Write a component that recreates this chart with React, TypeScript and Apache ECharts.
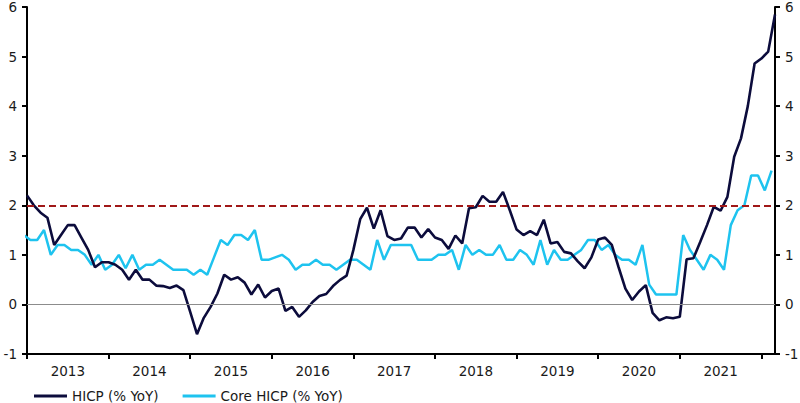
import React, { useEffect, useRef } from "react";
import * as echarts from "echarts";

// Monthly observations, Dec 2012 -> Feb 2022
const firstMonth = "2012-12";
const years = ["2013", "2014", "2015", "2016", "2017", "2018", "2019", "2020", "2021"];
const yTicks = [-1, 0, 1, 2, 3, 4, 5, 6];
const targetLevel = 2;
const zeroLevel = 0;

const hicp = [
  2.2,
  2.0, 1.85, 1.75, 1.2, 1.4, 1.6, 1.6, 1.35, 1.1, 0.75, 0.85, 0.85,
  0.8, 0.7, 0.5, 0.7, 0.5, 0.5, 0.38, 0.37, 0.33, 0.38, 0.29, -0.15,
  -0.6, -0.27, -0.05, 0.22, 0.6, 0.5, 0.55, 0.44, 0.2, 0.4, 0.14, 0.27,
  0.32, -0.13, -0.05, -0.25, -0.12, 0.05, 0.17, 0.21, 0.37, 0.49, 0.58, 1.1,
  1.72, 1.95, 1.53, 1.9, 1.38, 1.3, 1.33, 1.55, 1.55, 1.35, 1.52, 1.35,
  1.3, 1.12, 1.39, 1.23, 1.94, 1.96, 2.19, 2.07, 2.07, 2.27, 1.9, 1.51,
  1.4, 1.48, 1.4, 1.71, 1.23, 1.26, 1.06, 1.03, 0.87, 0.73, 0.95, 1.31,
  1.35, 1.2, 0.75, 0.32, 0.09, 0.26, 0.39, -0.17, -0.32, -0.26, -0.28, -0.25,
  0.91, 0.93, 1.26, 1.6, 1.97, 1.89, 2.17, 2.98, 3.35, 4.0, 4.86, 4.96,
  5.1, 5.85,
];

const core = [
  1.4,
  1.3, 1.3, 1.5, 1.0, 1.2, 1.2, 1.1, 1.1, 1.0, 0.8, 1.0, 0.7,
  0.8, 1.0, 0.73, 1.0, 0.7, 0.8, 0.8, 0.9, 0.8, 0.7, 0.7, 0.7,
  0.6, 0.7, 0.6, 0.95, 1.3, 1.2, 1.4, 1.4, 1.3, 1.5, 0.9, 0.9,
  0.95, 1.0, 0.9, 0.7, 0.8, 0.8, 0.9, 0.8, 0.8, 0.7, 0.8, 0.9,
  0.9, 0.8, 0.7, 1.3, 0.9, 1.2, 1.2, 1.2, 1.2, 0.9, 0.9, 0.9,
  1.0, 1.0, 1.1, 0.7, 1.2, 1.0, 1.1, 1.0, 1.0, 1.2, 0.9, 0.9,
  1.1, 1.0, 0.8, 1.3, 0.8, 1.1, 0.9, 0.9, 1.0, 1.1, 1.3, 1.3,
  1.1, 1.2, 1.0, 0.9, 0.9, 0.8, 1.2, 0.4, 0.2, 0.2, 0.2, 0.2,
  1.4, 1.1, 0.9, 0.7, 1.0, 0.9, 0.7, 1.6, 1.9, 2.0, 2.6, 2.6,
  2.3, 2.7,
];

const FONT = "DejaVu Sans";
const TEXT = "#1a1a1a";
const FS = 13.5;

export default function App() {
  const ref = useRef<HTMLDivElement>(null);

  useEffect(() => {
    if (!ref.current) return;
    const chart = echarts.init(ref.current, null, { renderer: "svg" });
    const lastIdx = hicp.length - 1;
    const tickVals = [...years.map((_, k) => k * 12), years.length * 12];
    const labelVals = years.map((_, k) => k * 12 + 6);

    const yAxisBase = {
      type: "value" as const,
      min: yTicks[0],
      max: yTicks[yTicks.length - 1],
      interval: 1,
      splitLine: { show: false },
      axisLine: { show: true, lineStyle: { color: "#000", width: 2 } },
      axisTick: { show: true, length: 5, lineStyle: { color: "#000", width: 2 } },
      axisLabel: { color: TEXT, fontFamily: FONT, fontSize: FS, margin: 10 },
    };

    chart.setOption({
      animation: false,
      backgroundColor: "#fff",
      grid: { left: 27, right: 25, top: 7, bottom: 49, containLabel: false, outerBoundsMode: "none" },
      legend: {
        left: 29,
        top: 384,
        itemGap: 24,
        itemWidth: 33,
        itemHeight: 3,
        icon: "rect",
        textStyle: { color: TEXT, fontFamily: FONT, fontSize: FS },
        data: ["HICP (% YoY)", "Core HICP (% YoY)"],
      },
      xAxis: {
        type: "value",
        min: 0,
        max: lastIdx,
        splitLine: { show: false },
        axisLine: { show: true, onZero: false, lineStyle: { color: "#000", width: 2 } },
        axisTick: { show: true, length: 5, customValues: tickVals, lineStyle: { color: "#000", width: 2 } },
        axisLabel: {
          customValues: labelVals,
          color: TEXT,
          fontFamily: FONT,
          fontSize: FS,
          margin: 10,
          formatter: (v: number) => years[Math.round((v - 6) / 12)] ?? "",
        },
      },
      yAxis: [
        { ...yAxisBase, position: "left" },
        { ...yAxisBase, position: "right" },
      ],
      series: [
        {
          name: "Core HICP (% YoY)",
          type: "line",
          data: core.map((v, i) => [i - 0.5, v]),
          showSymbol: false,
          symbol: "none",
          clip: true,
          color: "#1ec3ef",
          lineStyle: { color: "#1ec3ef", width: 2.5 },
          z: 3,
        },
        {
          name: "HICP (% YoY)",
          type: "line",
          data: hicp.map((v, i) => [i, v]),
          showSymbol: false,
          symbol: "none",
          clip: true,
          color: "#0c0c3c",
          lineStyle: { color: "#0c0c3c", width: 2.6 },
          z: 4,
          markLine: {
            silent: true,
            symbol: "none",
            label: { show: false },
            data: [
              { yAxis: zeroLevel, lineStyle: { color: "#8c8c8c", width: 1, type: "solid" } },
              { yAxis: targetLevel, lineStyle: { color: "#a01818", width: 2, type: [7, 4] } },
            ],
          },
        },
      ],
    });

    return () => chart.dispose();
  }, []);

  return (
    <div
      ref={ref}
      data-first-month={firstMonth}
      style={{ position: "fixed", left: 0, top: 0, width: 800, height: 403 }}
    />
  );
}
